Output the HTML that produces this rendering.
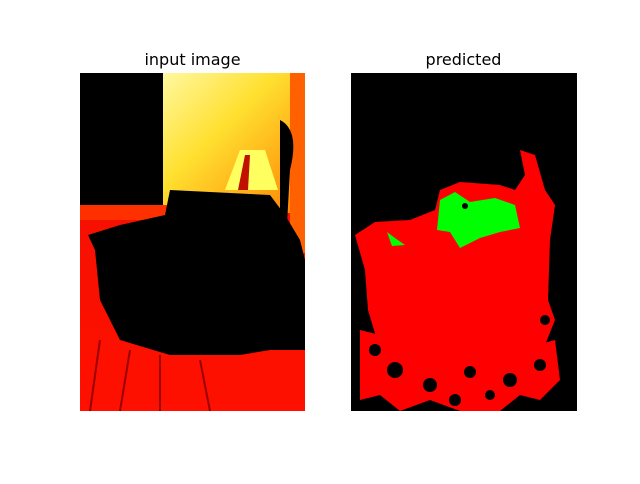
<!DOCTYPE html>
<html><head><meta charset="utf-8"><style>
body{margin:0;background:#fff;width:640px;height:480px;overflow:hidden;font-family:"DejaVu Sans","Liberation Sans",sans-serif}
</style></head><body>
<svg width="640" height="480" viewBox="0 0 640 480">
<defs>
<linearGradient id="wall" x1="0" y1="0" x2="1" y2="1">
<stop offset="0" stop-color="#fff8a0"/><stop offset="0.4" stop-color="#ffe030"/><stop offset="1" stop-color="#ff8000"/>
</linearGradient>
<linearGradient id="floor" x1="0" y1="0" x2="0" y2="1">
<stop offset="0" stop-color="#f01000"/><stop offset="1" stop-color="#ff1000"/>
</linearGradient>
</defs>
<text x="192.5" y="65" text-anchor="middle" font-size="16">input image</text>
<text x="463.5" y="65" text-anchor="middle" font-size="16">predicted</text>
<g>
<rect x="80" y="73" width="225" height="338" fill="url(#floor)"/>
<rect x="163" y="73" width="142" height="140" fill="url(#wall)"/>
<rect x="290" y="73" width="15" height="180" fill="#ff6000"/>
<rect x="80" y="73" width="83" height="135" fill="#000"/>
<rect x="80" y="205" width="90" height="15" fill="#ff3000"/>
<polygon points="225,190 240,150 265,150 278,190" fill="#ffff60"/>
<polygon points="238,190 245,155 250,155 248,190" fill="#c01000"/>
<path d="M170,190 L270,195 L285,215 L300,240 L305,260 L305,350 L270,350 L240,355 L170,355 L120,340 L100,300 L95,250 L88,235 L120,225 L165,215 Z" fill="#000"/>
<path d="M280,120 Q300,130 290,170 L285,260 L280,260 Z" fill="#000"/>
<path d="M100,340 L90,411 M130,350 L120,411 M160,355 L160,411 M200,360 L210,411" stroke="#900" stroke-width="2"/>
</g>
<g>
<rect x="351" y="73" width="226" height="338" fill="#000"/>
<path d="M440,190 L460,182 L500,185 L515,190 L525,175 L520,150 L535,155 L545,190 L555,205 L550,240 L548,300 L555,320 L545,345 L520,355 L480,360 L440,355 L400,360 L380,350 L368,310 L365,270 L355,235 L375,222 L410,220 L435,210 Z" fill="#ff0000"/>
<path d="M360,330 L400,340 L440,355 L500,355 L555,340 L560,380 L540,400 L520,395 L500,411 L460,411 L430,400 L400,411 L380,395 L360,400 Z" fill="#ff0000"/>
<g fill="#000">
<circle cx="395" cy="370" r="8"/><circle cx="430" cy="385" r="7"/><circle cx="470" cy="372" r="6"/><circle cx="510" cy="380" r="7"/><circle cx="540" cy="365" r="6"/><circle cx="455" cy="400" r="6"/><circle cx="375" cy="350" r="6"/><circle cx="490" cy="395" r="5"/><circle cx="545" cy="320" r="5"/>
</g>
<path d="M440,200 L455,192 L470,202 L495,198 L515,205 L520,228 L500,232 L480,238 L460,248 L450,232 L437,230 Z" fill="#00ff00"/>
<path d="M387,232 L395,238 L405,245 L392,246 Z" fill="#00ff00"/>
<circle cx="465" cy="206" r="3" fill="#000"/>
</g>
</svg>
</body></html>
